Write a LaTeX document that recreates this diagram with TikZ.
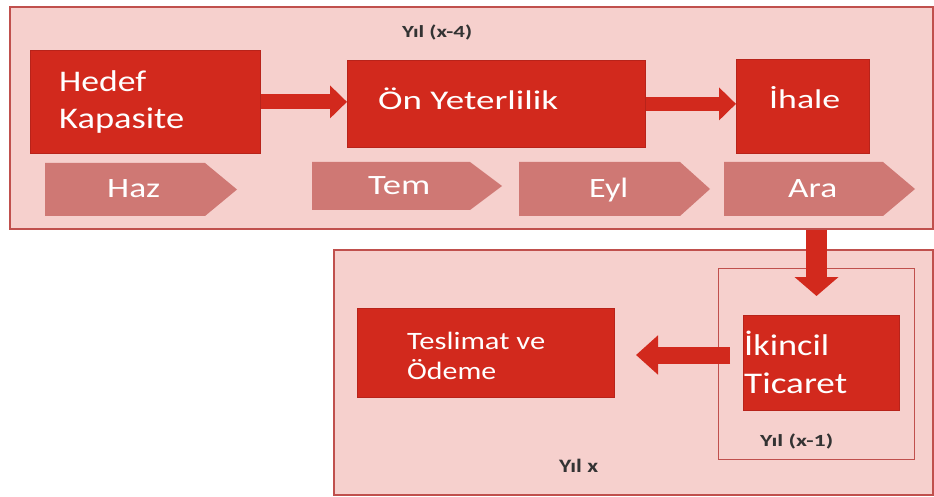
\documentclass[tikz,border=0pt]{standalone}
\usepackage{fontspec}
\usepackage{graphicx}
\setmainfont{Carlito}
\usetikzlibrary{arrows.meta}

\definecolor{boxred}{HTML}{D2291D}
\definecolor{boxedge}{HTML}{B8231A}
\definecolor{panelfill}{HTML}{F6D0CD}
\definecolor{paneledge}{HTML}{C0504D}
\definecolor{chevfill}{HTML}{CF7874}
\definecolor{labelgray}{HTML}{333333}

% stretch a text horizontally to a given width, keeping its height
\newcommand\fitw[2]{\resizebox{#1pt}{\height}{#2}}

\tikzset{
  panel/.style={draw=paneledge, line width=1.6pt, fill=panelfill},
  subpanel/.style={draw=paneledge, line width=1.2pt},
  redbox/.style={draw=boxedge, line width=0.8pt, fill=boxred, anchor=north west, inner sep=0pt},
  boxtext/.style={anchor=base west, inner sep=0pt, text=white},
  chevtext/.style={anchor=base west, inner sep=0pt, text=white, font=\fontsize{28}{28}\selectfont},
  yearlabel/.style={anchor=base west, inner sep=0pt, text=labelgray, font=\bfseries\fontsize{17}{17}\selectfont},
  fatarrow/.style={draw=boxred, line width=#1, -{Triangle[width=32pt, length=17pt]}},
  chevron/.style={fill=chevfill}
}

\begin{document}
\begin{tikzpicture}[x=1pt, y=-1pt]
\useasboundingbox (0,0) rectangle (934,497);
\fill[white] (0,0) rectangle (934,497);

% year panels
\node[panel, anchor=north west, minimum width=923pt, minimum height=222pt, inner sep=0pt] (toppanel) at (9,6) {};
\node[panel, anchor=north west, minimum width=599pt, minimum height=245pt, inner sep=0pt] (lowpanel) at (333,249) {};
\node[subpanel, anchor=north west, minimum width=196pt, minimum height=191pt, inner sep=0pt] (subpanel) at (718,268) {};

% phase chevrons
\fill[chevron] (45,163) -- (205,163) -- (237,189.5) -- (205,216) -- (45,216) -- cycle;
\fill[chevron] (312,162) -- (470,162) -- (502,186) -- (470,210) -- (312,210) -- cycle;
\fill[chevron] (519,162) -- (680,162) -- (710,189) -- (680,216) -- (519,216) -- cycle;
\fill[chevron] (724,162) -- (883,162) -- (915,189) -- (883,216) -- (724,216) -- cycle;
\node[chevtext] (haz) at (107,198) {\fitw{53}{Haz}};
\node[chevtext] (tem) at (368,195) {\fitw{62}{Tem}};
\node[chevtext] (eyl) at (589,197) {\fitw{39}{Eyl}};
\node[chevtext] (ara) at (788,197) {\fitw{49}{Ara}};

% process boxes
\node[redbox, minimum width=230pt, minimum height=103pt] (hedef) at (30,50) {};
\node[redbox, minimum width=298pt, minimum height=87pt] (onyet) at (347,60) {};
\node[redbox, minimum width=133pt, minimum height=94pt] (ihale) at (736,59) {};
\node[redbox, minimum width=156pt, minimum height=95pt] (ikincil) at (743,315) {};
\node[redbox, minimum width=257pt, minimum height=89pt] (teslim) at (357,308) {};

% box texts
\node[boxtext, font=\fontsize{30}{30}\selectfont] (hedefA) at (59,92) {\fitw{87}{Hedef}};
\node[boxtext, font=\fontsize{30}{30}\selectfont] (hedefB) at (59,129) {\fitw{125}{Kapasite}};
\node[boxtext, font=\fontsize{27}{27}\selectfont] (onyetT) at (378,110) {\fitw{180}{Ön Yeterlilik}};
\node[boxtext, font=\fontsize{27}{27}\selectfont] (ihaleT) at (769,109) {\fitw{71}{İhale}};
\node[boxtext, font=\fontsize{30}{30}\selectfont] (ikincilA) at (744,355) {\fitw{85}{İkincil}};
\node[boxtext, font=\fontsize{30}{30}\selectfont] (ikincilB) at (744,393) {\fitw{103}{Ticaret}};
\node[boxtext, font=\fontsize{25}{25}\selectfont] (teslimA) at (407,349) {\fitw{138}{Teslimat ve}};
\node[boxtext, font=\fontsize{25}{25}\selectfont] (teslimB) at (407,379) {\fitw{89}{Ödeme}};

% year labels
\node[yearlabel] (yil4) at (402,38) {\fitw{70}{Yıl (x-4)}};
\node[yearlabel] (yil1) at (760,446) {\fitw{73}{Yıl (x-1)}};
\node[yearlabel, font=\bfseries\fontsize{19}{19}\selectfont] (yilx) at (559,472) {\fitw{39}{Yıl x}};

% flow arrows
\coordinate (downtip) at (816.5,296);
\coordinate (lefttail) at (730,355);
\coordinate (lefttip) at (636,355);
\draw[fatarrow=15pt] (hedef.east) -- (hedef.east -| onyet.west);
\draw[fatarrow=14pt] (onyet.east) -- (onyet.east -| ihale.west);
\draw[draw=boxred, line width=21pt, -{Triangle[width=43pt, length=19pt]}] (downtip |- toppanel.south) -- (downtip);
\draw[draw=boxred, line width=17pt, -{Triangle[width=38pt, length=22pt]}] (lefttail) -- (lefttip);
\end{tikzpicture}
\end{document}
